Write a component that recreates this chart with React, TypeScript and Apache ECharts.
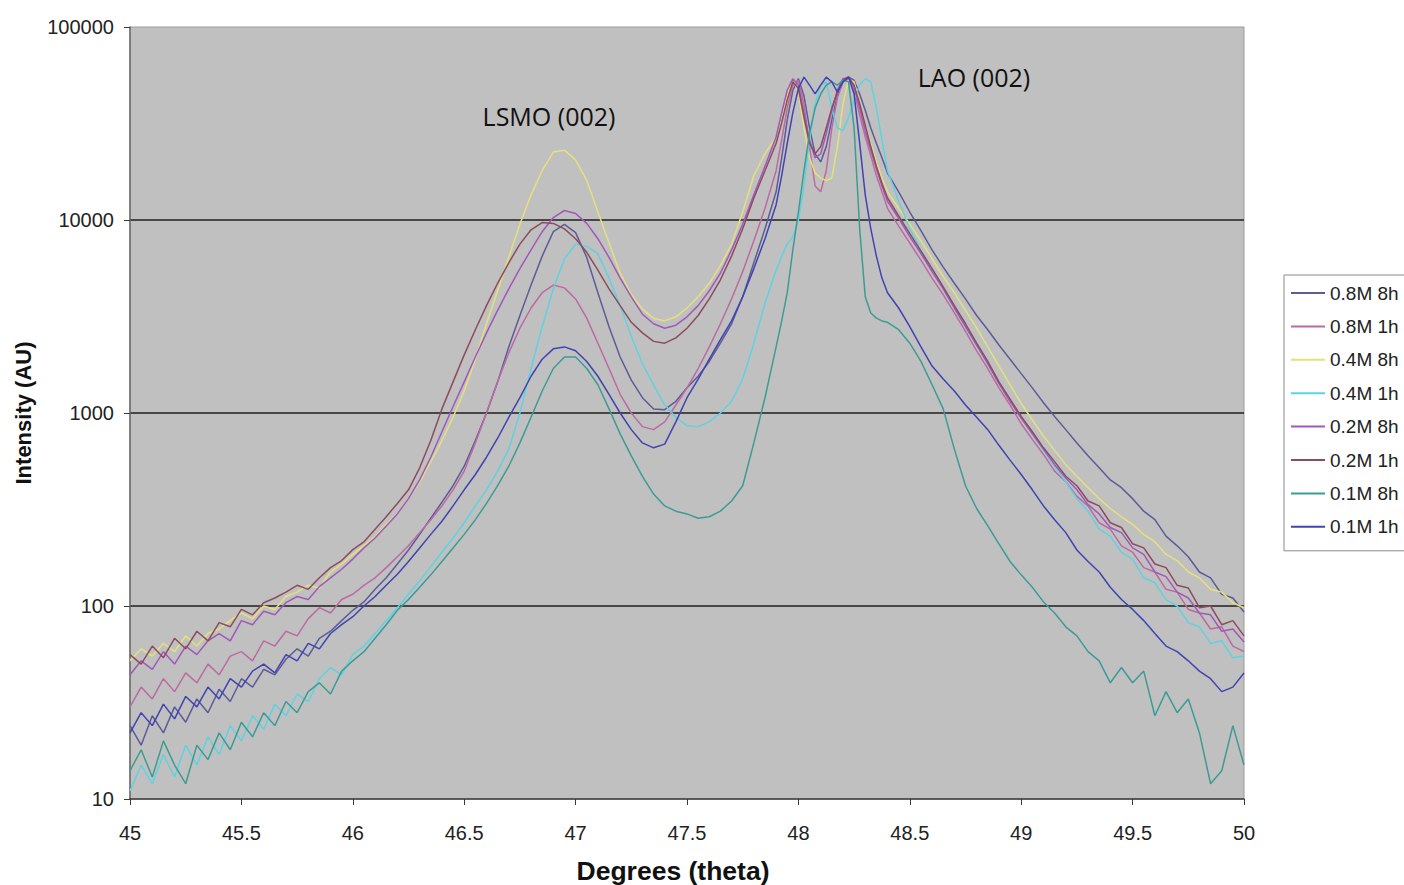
import React, { useEffect, useRef } from "react";
import * as echarts from "echarts";

// x sampling grid (degrees theta)
const X: number[] = [];
for (let i = 0; i <= 58; i++) X.push(+(45 + i * 0.05).toFixed(3));
for (let i = 1; i <= 20; i++) X.push(+(47.9 + i * 0.025).toFixed(3));
for (let i = 1; i <= 32; i++) X.push(+(48.4 + i * 0.05).toFixed(3));

const X_TICK_INTERVAL = 0.5;
const Y_TICKS = [10, 100, 1000, 10000, 100000];

const SERIES_NAMES = ["0.8M 8h", "0.8M 1h", "0.4M 8h", "0.4M 1h", "0.2M 8h", "0.2M 1h", "0.1M 8h", "0.1M 1h"];
const SERIES_COLORS = ["#5c5c98", "#bc6aa2", "#e2e27c", "#5ed2e2", "#a058ba", "#8c4c5e", "#3c9c94", "#4242b2"];

const S_08M_8H = [
  24, 19, 27, 22, 30, 25, 33, 28, 37, 32,
  42, 38, 47, 44, 53, 60, 55, 68, 74, 84,
  95, 105, 122, 140, 165, 195, 235, 285, 345, 420,
  530, 720, 1000, 1450, 2200, 3200, 4600, 6500, 8700, 9500,
  8600, 6400, 4200, 2800, 1950, 1480, 1200, 1050, 1040, 1150,
  1350, 1550, 1850, 2300, 2900, 4000, 6000, 9000, 14000, 21000,
  33000, 47000, 54000, 44000, 30000, 22000, 20000, 24000, 33000, 44000,
  52000, 55000, 53000, 45000, 37000, 30000, 25000, 21000, 17500, 14000,
  11000, 8800, 7000, 5700, 4700, 3900, 3200, 2700, 2250, 1900,
  1600, 1350, 1130, 960, 820, 700, 600, 520, 450, 410,
  360, 310, 280, 230, 205, 180, 150, 140, 115, 110, 93,
];
const S_08M_1H = [
  30, 38, 33, 42, 36, 45, 40, 50, 44, 55,
  58, 52, 66, 62, 74, 70, 86, 98, 92, 108,
  115, 128, 140, 158, 180, 205, 240, 280, 330, 400,
  500, 700, 1000, 1450, 2050, 2750, 3500, 4200, 4600, 4450,
  3900, 3100, 2300, 1700, 1250, 1000, 850, 820, 900, 1100,
  1350, 1700, 2200, 2900, 3900, 5400, 7800, 11500, 18000, 26000,
  38000, 50000, 53000, 40000, 24000, 15000, 14000, 18000, 30000, 43000,
  52000, 54000, 47000, 35000, 27000, 21500, 17000, 14000, 11500, 9300,
  7600, 6200, 5000, 4100, 3300, 2650, 2100, 1700, 1350, 1100,
  880, 730, 610, 500, 440, 370, 330, 270, 250, 205,
  190, 158, 150, 122, 118, 96, 92, 76, 78, 62, 58,
];
const S_04M_8H = [
  52, 60, 55, 64, 58, 70, 62, 72, 76, 84,
  92, 86, 100, 96, 112, 118, 128, 124, 150, 165,
  185, 205, 228, 265, 300, 360, 440, 560, 720, 950,
  1300, 1900, 2900, 4300, 6400, 9500, 13500, 18000, 22500, 23000,
  20500, 16000, 11000, 7600, 5300, 4100, 3450, 3100, 3000, 3150,
  3500, 4000, 4700, 5800, 7500, 11000, 17000, 22000, 27000, 33000,
  44000, 54000, 46000, 30000, 21000, 17500, 16500, 16000, 16500, 24000,
  40000, 53000, 52000, 40000, 31000, 25000, 20000, 16500, 14000, 11500,
  9500, 7800, 6300, 5100, 4200, 3400, 2750, 2200, 1750, 1400,
  1120, 920, 760, 640, 540, 470, 410, 360, 320, 290,
  265, 235, 215, 185, 172, 150, 140, 122, 118, 104, 98,
];
const S_04M_1H = [
  11, 15, 12, 17, 13, 19, 15, 21, 17, 24,
  20, 27, 23, 31, 27, 35, 32, 42, 48, 44,
  56, 62, 72, 84, 98, 115, 135, 160, 190, 225,
  270, 330, 400, 500, 650, 1000, 1700, 2800, 4400, 6300,
  7500, 7300, 6700, 5000, 3600, 2500, 1800, 1400, 1100, 950,
  860, 850, 900, 1000, 1150, 1500, 2300, 3700, 5500, 6500,
  7500, 8200, 10000, 15000, 26000, 40000, 50000, 52000, 38000, 30000,
  29000, 34000, 42000, 50000, 54000, 52000, 38000, 26000, 18000, 12500,
  9000, 7000, 5500, 4400, 3500, 2800, 2250, 1800, 1450, 1170,
  950, 780, 640, 530, 440, 360, 310, 250, 230, 190,
  175, 140, 132, 108, 100, 82, 78, 64, 66, 54, 55,
];
const S_02M_8H = [
  44, 52, 47, 58, 50, 62, 56, 66, 72, 66,
  84, 80, 94, 90, 104, 112, 108, 126, 140, 155,
  175, 200, 225, 260, 300, 360, 450, 590, 800, 1080,
  1450, 1950, 2600, 3400, 4400, 5600, 7000, 8700, 10300, 11200,
  10800, 9600, 8000, 6400, 5000, 4000, 3250, 2900, 2750, 2850,
  3150, 3600, 4300, 5300, 7000, 9500, 13500, 19000, 27000, 36000,
  47000, 54000, 50000, 36000, 26000, 21000, 22000, 28000, 37000, 47000,
  54000, 55000, 49000, 38000, 29000, 23000, 18500, 15000, 12500, 10200,
  8200, 6700, 5400, 4400, 3500, 2800, 2250, 1800, 1420, 1150,
  940, 780, 650, 540, 460, 400, 335, 300, 255, 240,
  200, 185, 150, 142, 118, 110, 92, 90, 74, 76, 65,
];
const S_02M_1H = [
  56, 50, 62, 54, 68, 60, 74, 66, 82, 78,
  96, 90, 104, 110, 118, 128, 122, 140, 158, 172,
  196, 215, 250, 290, 340, 400, 520, 720, 1050, 1450,
  2000, 2700, 3600, 4700, 6000, 7500, 8900, 9700, 9600, 9000,
  8000, 6800, 5500, 4400, 3600, 2950, 2600, 2350, 2300, 2450,
  2750, 3200, 3900, 4900, 6500, 9000, 13000, 18000, 25000, 32000,
  42000, 52000, 48000, 34000, 25000, 22000, 24000, 30000, 38000, 46000,
  53000, 55000, 50000, 40000, 31000, 24000, 19000, 15500, 13000, 10500,
  8500, 6900, 5600, 4500, 3600, 2900, 2300, 1850, 1450, 1180,
  960, 800, 660, 560, 470, 420, 350, 330, 270, 255,
  210, 200, 165, 158, 128, 124, 98, 100, 80, 84, 70,
];
const S_01M_8H = [
  14, 18, 13, 20, 15, 12, 19, 16, 22, 18,
  25, 21, 28, 24, 32, 28, 36, 40, 35, 46,
  52, 58, 68, 80, 95, 108, 125, 145, 170, 200,
  235, 280, 340, 420, 530, 700, 950, 1300, 1700, 1950,
  1950, 1700, 1400, 1050, 780, 600, 470, 380, 330, 310,
  300, 285, 290, 310, 350, 420, 700, 1200, 2200, 3000,
  4200, 7000, 11000, 18000, 28000, 38000, 45000, 50000, 52000, 50000,
  53000, 52000, 30000, 9000, 4000, 3300, 3100, 3000, 2950, 2700,
  2300, 1850, 1400, 1050, 650, 420, 320, 260, 210, 170,
  145, 125, 105, 92, 78, 70, 58, 52, 40, 48,
  40, 46, 27, 36, 28, 33, 22, 12, 14, 24, 15,
];
const S_01M_1H = [
  22, 28, 24, 31, 26, 34, 30, 38, 33, 42,
  38, 46, 50, 45, 56, 52, 64, 60, 72, 80,
  88, 100, 112, 128, 146, 170, 200, 235, 275, 330,
  400, 480, 590, 740, 950, 1200, 1550, 1900, 2150, 2200,
  2100, 1850, 1550, 1250, 1000, 820, 700, 660, 690, 900,
  1200, 1500, 1900, 2400, 3000, 4000, 5600, 8000, 12000, 17000,
  25000, 36000, 48000, 55000, 50000, 45000, 50000, 55000, 52000, 46000,
  52000, 55000, 45000, 25000, 13500, 9000, 6500, 5000, 4200, 3500,
  2800, 2200, 1750, 1500, 1300, 1100, 950, 820, 680, 570,
  480, 400, 330, 280, 240, 195, 170, 150, 125, 108,
  96, 84, 72, 62, 58, 52, 46, 42, 36, 38, 45,
];

const SERIES_VALUES = [S_08M_8H, S_08M_1H, S_04M_8H, S_04M_1H, S_02M_8H, S_02M_1H, S_01M_8H, S_01M_1H];

const FONT = "'Liberation Sans', Arial, sans-serif";

export default function App() {
  const ref = useRef<HTMLDivElement>(null);
  useEffect(() => {
    if (!ref.current) return;
    const chart = echarts.init(ref.current, null, { renderer: "svg" });
    const option: any = {
      animation: false,
      backgroundColor: "#ffffff",
      grid: {
        left: 130,
        right: 160,
        top: 27,
        bottom: 86,
        containLabel: false,
        outerBoundsMode: "none",
        show: true,
        backgroundColor: "#c0c0c0",
        borderColor: "#9c9c9c",
        borderWidth: 1,
      },
      legend: {
        orient: "vertical",
        left: 1284,
        top: 275,
        icon: "rect",
        itemWidth: 34,
        itemHeight: 2,
        itemGap: 14.4,
        padding: [8.5, 10, 14.5, 7],
        backgroundColor: "#ffffff",
        borderColor: "#8a8a8a",
        borderWidth: 1,
        borderRadius: 0,
        textStyle: { fontFamily: FONT, fontSize: 19, color: "#222" },
        data: SERIES_NAMES,
      },
      xAxis: {
        type: "value",
        min: 45,
        max: 50,
        interval: X_TICK_INTERVAL,
        name: "Degrees (theta)",
        nameLocation: "middle",
        nameGap: 58,
        nameTextStyle: {
          fontFamily: FONT,
          fontSize: 26.5,
          fontWeight: "bold",
          color: "#111",
          padding: [0, 28, 0, 0],
        },
        axisLine: { show: true, lineStyle: { color: "#3a3a3a", width: 1.5 } },
        axisTick: { show: true, length: 6, lineStyle: { color: "#3a3a3a" } },
        axisLabel: { fontFamily: FONT, fontSize: 20, color: "#222", margin: 24 },
        splitLine: { show: false },
      },
      yAxis: {
        type: "log",
        logBase: 10,
        min: Y_TICKS[0],
        max: Y_TICKS[Y_TICKS.length - 1],
        name: "Intensity (AU)",
        nameLocation: "middle",
        nameGap: 96,
        nameTextStyle: { fontFamily: FONT, fontSize: 22, fontWeight: "bold", color: "#111" },
        axisLine: { show: true, lineStyle: { color: "#6a6a6a", width: 1.5 } },
        axisTick: { show: true, length: 6, lineStyle: { color: "#3a3a3a" } },
        axisLabel: {
          fontFamily: FONT,
          fontSize: 20,
          color: "#222",
          margin: 16,
          formatter: (v: number) => String(Math.round(v)),
        },
        splitLine: {
          show: true,
          lineStyle: { color: ["rgba(0,0,0,0)", "#474747", "#474747", "#474747", "rgba(0,0,0,0)"], width: 2 },
        },
      },
      graphic: [
        {
          type: "text",
          x: 549,
          y: 116,
          style: {
            text: "LSMO (002)",
            fontFamily: "'Open Sans', sans-serif",
            fontSize: 25,
            fill: "#111",
            align: "center",
            verticalAlign: "middle",
          },
        },
        {
          type: "text",
          x: 974,
          y: 77,
          style: {
            text: "LAO (002)",
            fontFamily: "'Open Sans', sans-serif",
            fontSize: 25,
            fill: "#111",
            align: "center",
            verticalAlign: "middle",
          },
        },
      ],
      series: SERIES_NAMES.map((name, k) => ({
        name,
        type: "line",
        showSymbol: false,
        symbol: "none",
        smooth: false,
        color: SERIES_COLORS[k],
        lineStyle: { width: 1.5, color: SERIES_COLORS[k] },
        data: X.map((x, i) => [x, SERIES_VALUES[k][i]]),
      })),
    };
    chart.setOption(option);
    return () => chart.dispose();
  }, []);
  return <div ref={ref} style={{ position: "fixed", left: 0, top: 0, width: 1404, height: 885 }} />;
}
